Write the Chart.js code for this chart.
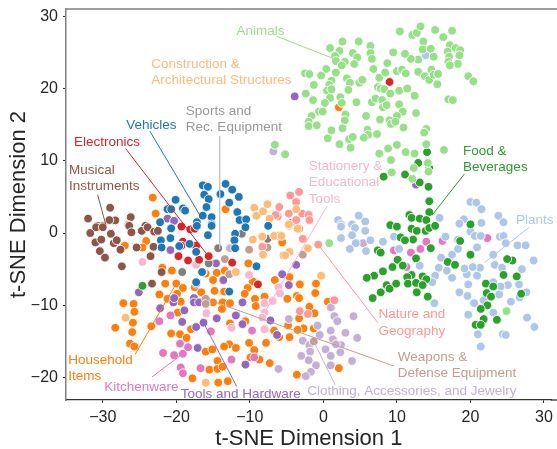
<!DOCTYPE html>
<html>
<head>
<meta charset="utf-8">
<style>html,body{margin:0;padding:0;background:#fff}canvas{display:block}</style>
<script src="https://cdn.jsdelivr.net/npm/chart.js@4"></script>
</head>
<body>
<canvas id="c" width="557" height="449" style="width:557px;height:449px"></canvas>
<script>
const xTicks=[-30,-20,-10,0,10,20,30];
const yTicks=[-20,-10,0,10,20,30];
const animals=[[10.4,27.9],[12.1,27.4],[12.7,27.7],[13.2,28.6],[15.2,28.1],[17.5,28.0],[16.3,27.1],[13.6,26.5],[17.2,26.0],[18.0,25.6],[18.6,25.3],[16.9,25.1],[17.1,24.4],[18.3,23.4],[18.5,24.6],[17.0,23.7],[17.2,23.2],[13.5,25.4],[14.6,25.5],[15.0,24.4],[12.9,24.0],[11.9,24.1],[11.1,24.8],[9.5,25.0],[8.7,23.5],[2.6,26.5],[4.8,26.5],[0.9,25.6],[2.2,25.2],[1.6,24.5],[1.7,23.8],[4.0,24.9],[4.6,24.3],[4.2,23.4],[2.9,23.7],[2.5,23.2],[6.4,25.9],[6.4,24.9],[6.6,24.1],[6.8,22.7],[0.4,22.7],[-0.3,21.8],[1.7,22.2],[-2.5,22.1],[-1.9,22.0],[3.2,21.4],[1.1,21.1],[0.8,20.5],[-1.3,20.5],[3.6,20.8],[4.9,20.8],[5.3,21.2],[-2.4,19.3],[0.5,19.7],[1.1,19.9],[3.4,19.8],[-1.4,18.4],[0.9,18.7],[0.2,18.0],[2.3,18.8],[2.5,18.0],[4.5,18.1],[-0.6,16.8],[-0.1,16.8],[-1.6,16.2],[-2.0,15.4],[-2.0,14.8],[-0.9,14.9],[3.0,16.4],[2.9,15.6],[5.8,16.2],[7.7,15.7],[2.6,14.5],[1.1,14.2],[0.6,13.1],[2.2,12.3],[3.5,13.0],[4.0,13.3],[3.7,11.8],[6.0,14.3],[6.1,13.6],[5.5,13.2],[7.3,13.7],[7.6,21.5],[8.4,22.2],[7.4,20.2],[7.8,20.0],[8.3,19.9],[9.1,19.3],[10.3,19.7],[11.4,20.0],[12.4,19.0],[10.0,22.4],[10.7,22.6],[11.2,22.1],[12.9,22.3],[13.8,21.7],[14.4,21.2],[14.7,22.6],[15.0,21.9],[15.6,22.0],[15.5,20.6],[19.7,21.7],[20.4,21.0],[17.0,18.5],[17.6,18.4],[6.6,18.1],[7.1,18.6],[8.0,18.4],[8.1,17.4],[8.6,17.7],[10.3,17.8],[10.8,16.8],[12.6,16.6],[10.0,16.2],[9.0,15.6],[9.2,15.1],[9.8,15.4],[10.9,14.6],[14.0,14.4],[13.7,13.9],[14.0,12.3],[16.4,11.5],[8.8,11.7],[10.0,12.2],[7.6,11.0],[11.2,11.2],[12.4,11.0],[9.2,10.1],[9.3,8.4],[12.3,9.0],[12.1,7.5],[14.2,9.7],[14.3,8.5],[-6.6,12.2],[-5.2,10.9],[0.8,-1.4],[24.9,-10.8]];
const foodBeverages=[[14.1,11.2],[12.9,9.7],[14.4,9.0],[8.2,7.8],[11.1,8.1],[13.1,7.0],[14.3,6.4],[14.4,4.4],[14.4,2.9],[11.7,2.5],[12.0,2.1],[13.1,2.0],[14.0,1.8],[9.1,1.1],[10.0,0.9],[12.0,0.6],[12.7,0.3],[13.9,0.3],[14.4,0.7],[15.2,1.0],[10.5,-0.6],[12.2,-0.9],[11.1,-1.0],[14.6,-2.1],[7.4,-2.4],[7.8,-2.7],[10.1,-3.7],[12.6,-3.5],[9.4,-4.7],[10.8,-4.5],[8.1,-5.3],[6.9,-5.9],[5.9,-6.2],[12.0,-5.8],[11.4,-6.1],[13.5,-6.0],[14.0,-6.4],[8.6,-7.2],[9.0,-7.7],[9.9,-7.0],[11.5,-7.0],[12.6,-6.9],[13.5,-7.2],[7.8,-8.2],[6.7,-9.0],[12.7,-8.2],[14.2,-8.8],[16.9,-4.0],[17.9,-4.4],[18.6,-1.1],[20.0,-3.0],[20.0,1.2],[25.7,-3.8],[26.3,-6.0],[26.9,-8.4],[24.5,-5.8],[22.1,-7.0],[23.1,-7.4],[22.2,-8.3],[22.8,-8.8],[22.3,-10.0],[21.4,-10.5],[21.8,-11.9],[23.6,-12.0],[20.7,-12.7],[21.4,-12.7],[25.0,-3.6],[-24.6,-7.3]];
const plants=[[20.0,4.3],[20.8,4.2],[21.5,3.3],[23.8,2.4],[24.5,1.5],[15.8,2.1],[19.1,1.9],[18.5,1.3],[21.5,1.4],[4.8,2.4],[5.7,1.6],[2.0,1.8],[2.4,1.2],[3.9,1.2],[2.4,0.9],[4.3,0.7],[3.9,-0.3],[5.7,0.3],[2.4,-0.7],[4.4,-1.4],[3.6,-2.2],[6.4,-1.0],[5.8,-2.5],[8.1,-1.2],[9.6,-0.5],[10.3,-2.2],[16.6,-0.5],[18.3,-0.9],[18.3,-2.2],[16.0,-3.4],[17.5,-3.0],[15.7,-4.8],[16.8,-5.2],[17.5,-6.2],[15.2,-5.9],[14.8,-6.8],[13.1,-4.5],[20.0,0.2],[20.6,-0.4],[21.4,-0.4],[20.9,-2.0],[24.0,-0.5],[24.5,-0.4],[26.4,-1.7],[27.5,-1.7],[24.8,-1.4],[23.1,-3.0],[28.6,-3.8],[27.0,-5.0],[26.6,-7.1],[27.6,-8.2],[26.7,-8.9],[25.1,-7.2],[24.1,-7.4],[23.9,-8.5],[25.5,-9.5],[23.1,-11.0],[20.5,-9.7],[19.7,-11.3],[18.5,-8.2],[19.6,-8.7],[19.7,-7.1],[19.5,-5.7],[19.2,-4.9],[20.9,-5.9],[21.3,-4.8],[20.3,-4.7],[23.3,-4.4],[24.3,-4.8],[23.1,-6.8],[21.8,-9.3],[27.7,-11.7],[28.7,-13.0],[24.4,-14.0],[21.0,-14.0],[21.4,-15.7],[24.8,-14.1],[15.1,-9.7],[13.9,24.6]];
const vehicles=[[-16.4,6.6],[-15.7,6.4],[-16.2,5.3],[-15.6,4.7],[-15.9,3.6],[-16.4,2.4],[-15.2,2.2],[-17.2,1.5],[-15.2,1.2],[-13.3,6.8],[-12.4,6.0],[-14.0,5.4],[-11.5,5.0],[-12.8,4.2],[-11.7,2.9],[-11.4,1.8],[-10.5,1.9],[-20.1,4.6],[-21.2,3.3],[-20.7,3.3],[-19.1,3.4],[-18.8,3.1],[-22.2,1.5],[-22.1,-1.0],[-20.8,-0.7],[-22.0,-2.0],[-19.6,-1.8],[-20.7,0.65],[-17.3,-2.6],[-15.7,-0.3],[-15.2,1.0],[-12.0,-0.1],[-12.1,-1.0],[-12.0,-2.1],[-10.6,0.8],[-9.1,-4.6],[-7.5,1.0],[-12.8,-8.1],[-17.2,1.0],[-18.2,-1.5],[-16.5,-5.4],[-17.3,-6.8]];
const electronics=[[-19.3,0.9],[-18.1,0.5],[-17.5,0.6],[-19.1,-1.2],[-17.3,-1.75],[-15.6,-3.2],[-19.7,-3.2],[-18.4,-3.8],[-16.9,-3.7],[-12.4,-4.1],[-8.9,-7.1],[-19.3,-1.75],[9.0,20.9]];
const musical=[[-32.0,2.0],[-29.0,3.5],[-28.3,1.75],[-29.1,1.8],[-26.2,2.2],[-30.7,1.0],[-30.0,1.0],[-26.5,1.1],[-24.2,1.0],[-31.7,0],[-30.9,0.8],[-30.0,0.8],[-28.9,-0.1],[-26.4,1.0],[-26.1,0.1],[-24.7,0.3],[-23.9,0.8],[-23.0,0.2],[-22.5,0.3],[-31.0,-1.3],[-30.2,-0.9],[-28.5,-1.4],[-28.1,-1.0],[-30.4,-2.5],[-29.7,-3.4],[-27.6,-2.3],[-25.4,-2.0],[-23.1,-1.9],[-23.5,-3.2],[-27.4,-4.6],[-23.3,-7.0],[-22.0,-5.4]];
const household=[[-23.2,4.9],[-22.8,2.7],[-13.3,3.3],[-24.1,-1.1],[-24.6,-2.0],[-27.0,-1.75],[-21.9,-4.8],[-20.6,-5.2],[-16.0,-5.6],[-14.5,-5.5],[-13.4,-5.2],[-15.0,-6.5],[-21.5,-7.0],[-20.0,-7.0],[-19.1,-7.6],[-17.5,-7.5],[-16.6,-8.2],[-14.8,-8.0],[-13.5,-8.1],[-22.3,-8.5],[-19.9,-8.4],[-19.4,-9.5],[-21.2,-9.1],[-27.2,-9.7],[-25.8,-9.8],[-25.7,-10.9],[-25.9,-12.4],[-26.0,-13.7],[-28.3,-13.1],[-23.4,-12.9],[-26.3,-15.3],[-25.7,-15.7],[-20.7,-13.9],[-19.5,-14.0],[-18.6,-14.5],[-18.0,-13.3],[-19.8,-11.0],[-15.0,-9.6],[-13.7,-9.6],[-12.7,-9.7],[-13.8,-10.5],[-12.7,-12.5],[-10.6,-12.2],[-10.1,-15.2],[-9.4,-16.2],[-7.8,-15.2],[-16.0,-16.4],[-15.1,-16.1],[-12.8,-15.4],[-13.5,-15.7],[-11.9,-15.9],[-14.4,-17.7],[-15.5,-18.9],[-14.4,-18.8],[-13.7,-18.5],[-17.8,-20.1],[-14.3,-20.7],[-13.0,-20.5],[-9.9,-17.2],[-8.7,-17.5],[-7.3,-18.0],[-10.2,-4.2],[-9.6,-6.7],[-10.3,-7.6],[-10.7,-8.4],[-9.3,-9.1],[-8.0,-8.8],[-9.2,-10.1],[-6.6,-6.5],[-6.7,-13.5],[-4.6,-6.1],[-3.2,-7.1],[-1.0,-7.0],[-1.1,-8.3],[-4.9,-9.1],[-3.6,-8.7],[-3.3,-9.0],[0.6,-9.5],[-1.9,-10.2],[-1.2,-11.1],[-3.3,-11.8],[-4.8,-12.8],[-2.7,-13.2],[-1.3,-13.2],[-3.5,-13.4],[-4.6,-14.4],[-6.0,-14.4],[-3.6,-19.6],[2.1,-18.7],[-6.0,-0.4],[-5.6,-1.3],[-5.4,-3.1],[-3.3,0.6],[2.1,17.4]];
const construction=[[-9.4,3.5],[-9.1,2.4],[-8.2,3.0],[-7.6,4.0],[-7.3,2.0],[-9.6,-0.9],[-8.3,-0.5],[-6.7,-0.4],[-8.2,-3.0],[-11.9,-5.4],[-26.9,-11.7],[-16.0,-20.7],[-5.7,-0.4],[-4.7,1.0],[-3.5,0.6],[-2.1,-2.1],[-4.6,-2.6],[-5.2,-3.1],[-0.3,-5.9],[-3.7,3.3],[-4.7,1.2]];
const natureGeo=[[-4.5,5.2],[-3.3,5.7],[-3.7,4.3],[-6.0,3.6],[-4.7,2.7],[-2.9,2.7],[-2.0,2.5],[-6.2,2.3],[-1.9,1.8],[-3.7,1.8],[-6.5,2.5],[-8.3,-1.9],[-2.8,-0.8],[-0.7,-1.6],[-3.2,-10.8],[1.5,-9.3],[-2.1,-11.2]];
const sports=[[-14.3,-2.1],[-17.3,-1.9],[-19.2,-5.4],[-11.1,-0.1],[-7.6,-0.8],[-15.6,-4.2],[-4.4,1.4]];
const weapons=[[-16.0,-9.1],[-16.0,-9.8],[-13.4,-3.6],[-12.8,-5.7],[-10.1,-2.3],[-7.6,-2.0],[-2.8,-3.0],[-1.3,-15.0]];
const clothing=[[-12.7,-2.1],[-6.1,-18.8],[-6.8,11.3],[1.0,-10.3],[1.5,-11.5],[1.9,-12.2],[4.1,-11.5],[1.0,-13.5],[-0.8,-12.8],[-0.5,-14.1],[3.0,-13.8],[4.6,-14.5],[1.3,-14.7],[2.4,-15.5],[1.7,-15.4],[0.3,-16.1],[-2.8,-14.9],[-1.9,-15.5],[-1.8,-16.4],[-3.0,-17.0],[-2.0,-17.6],[2.3,-16.5],[1.0,-17.0],[3.9,-17.7],[1.0,-18.3],[-1.0,-18.3],[-1.7,-19.2],[-2.4,-19.8],[-4.7,-11.9],[5.4,-1.4]];
const tools=[[-21.2,2.0],[-20.3,1.7],[-20.8,-2.35],[-14.6,-4.2],[-16.4,-5.4],[-13.6,-6.5],[-17.3,-7.0],[-25.1,-8.2],[-17.6,-9.0],[-17.6,-9.6],[-16.9,-9.6],[-20.4,-9.6],[-20.3,-9.0],[-22.2,-10.4],[-18.9,-10.7],[-11.0,-9.6],[-11.9,-11.4],[-11.0,-12.6],[-14.5,-11.8],[-16.3,-12.4],[-17.3,-13.0],[-19.2,-12.3],[-17.1,-15.9],[-10.6,-18.2],[-7.2,-12.1],[-6.3,-14.1],[-3.7,-4.4],[-5.6,-5.7],[-4.7,-7.2],[-3.9,18.9],[12.6,6.7]];
const kitchenware=[[14.0,-1.2],[16.2,-1.1],[22.3,-0.7],[11.9,-2.7],[13.2,-2.2],[11.3,-4.7],[9.6,-2.4],[-22.3,-12.2],[-20.8,-11.4],[-21.8,-16.6],[-20.3,-16.9],[-19.1,-16.7],[-19.5,-15.3],[-18.4,-15.8],[-19.4,-18.6],[-19.1,-19.4],[-16.7,-18.7],[-12.5,-17.5],[-9.4,-17.2],[-15.3,-13.6],[-9.7,-13.5]];
const stationery=[[-24.6,-4.0],[-17.3,-4.4],[-10.1,-5.8],[-15.9,-11.1],[-12.5,-13.1],[-8.0,-9.7],[-6.9,-9.4],[-8.0,-11.0],[-8.0,-13.3],[-6.1,-7.5],[-8.3,-11.7],[-5.9,-8.35]];

const groups=[
 {name:'Animals',color:'#98df8a',pts:animals,text:['Animals'],at:[-11.8,27.4],lead:[[-6.3,27.2],[1.5,24.1]]},
 {name:'Food & Beverages',color:'#2ca02c',pts:foodBeverages,text:['Food &','Beverages'],at:[19.0,10.8],lead:[[19.2,8.2],[14.8,2.5]]},
 {name:'Plants',color:'#aec7e8',pts:plants,text:['Plants'],at:[26.2,1.2],lead:[[28.0,0.8],[21.9,-4.1]]},
 {name:'Vehicles',color:'#1f77b4',pts:vehicles,text:['Vehicles'],at:[-26.8,14.4],lead:[[-23.6,14.1],[-16.7,2.3]]},
 {name:'Electronics',color:'#d62728',pts:electronics,text:['Electronics'],at:[-33.9,12.0],lead:[[-26.9,11.7],[-15.5,-3.4]]},
 {name:'Musical Instruments',color:'#8c564b',pts:musical,text:['Musical','Instruments'],at:[-34.6,8.2],lead:[[-30.7,5.3],[-29.6,1.2]]},
 {name:'Construction',color:'#ffbb78',pts:construction,text:['Construction &','Architectural Structures'],at:[-23.4,22.8],lead:null},
 {name:'Nature and Geography',color:'#ff9896',pts:natureGeo,text:['Nature and','Geography'],at:[7.5,-11.8],lead:[[7.4,-12.4],[-0.7,-1.6]]},
 {name:'Sports',color:'#7f7f7f',textColor:'#999999',leadColor:'#c7c7c7',pts:sports,text:['Sports and','Rec. Equipment'],at:[-18.7,16.4],lead:[[-14.1,13.4],[-14.1,-2.2]]},
 {name:'Weapons',color:'#c49c94',pts:weapons,text:['Weapons &','Defense Equipment'],at:[10.1,-17.7],lead:[[9.6,-18.4],[-16.0,-9.1]]},
 {name:'Clothing',color:'#c5b0d5',pts:clothing,text:['Clothing, Accessories, and Jewelry'],at:[-2.2,-22.4],lead:[[1.6,-21.0],[-1.3,-15.0]]},
 {name:'Tools',color:'#9467bd',pts:tools,text:['Tools and Hardware'],at:[-19.4,-22.8],lead:[[-11.8,-21.2],[-16.3,-12.4]]},
 {name:'Kitchenware',color:'#e377c2',pts:kitchenware,text:['Kitchenware'],at:[-29.8,-21.8],lead:[[-23.3,-19.9],[-19.1,-16.7]]},
 {name:'Stationery',color:'#f7b6d2',pts:stationery,text:['Stationery &','Educational','Tools'],at:[-2.0,8.7],lead:[[0.5,3.7],[-8.0,-11.0]]},
 {name:'Household',color:'#ff7f0e',pts:household,text:['Household','Items'],at:[-34.7,-18.1],lead:[[-25.6,-16.8],[-20.3,-7.5]]}
];
const FONT='"Liberation Sans", Arial, Helvetica, sans-serif';
const toXY=p=>({x:p[0],y:p[1]});
const datasets=[];
groups.forEach(g=>{ if(g.lead) datasets.push({type:'line',label:g.name+' leader',data:g.lead.map(toXY),borderColor:g.leadColor||g.color,borderWidth:1,pointRadius:0,fill:false,order:1,clip:false}); });
groups.forEach(g=>datasets.push({type:'scatter',label:g.name,data:g.pts.map(toXY),backgroundColor:g.color,borderColor:'#ffffff',borderWidth:0.9,pointRadius:4.4,pointHoverRadius:4.4,order:2,clip:false}));

const labelsPlugin={id:'labelsPlugin',
 afterDatasetsDraw(ch){
  const c=ch.ctx,xs=ch.scales.x,ys=ch.scales.y;
  c.save();
  c.font='13.5px '+FONT;c.textAlign='left';c.textBaseline='alphabetic';
  groups.forEach(g=>{
   c.fillStyle=g.textColor||g.color;
   const x=xs.getPixelForValue(g.at[0]);let y=ys.getPixelForValue(g.at[1]);
   g.text.forEach((t,i)=>c.fillText(t,x,y+i*16.2));
  });
  c.restore();
 },
 beforeDatasetsDraw(ch){
  const c=ch.ctx,a=ch.chartArea;
  c.save();
  c.strokeStyle='#7f7f7f';c.lineWidth=1.5;
  c.beginPath();c.moveTo(a.left,a.top);c.lineTo(ch.width,a.top);c.stroke();
  c.strokeStyle='#333333';c.lineWidth=1.3;
  c.beginPath();c.moveTo(a.right-1,a.bottom);c.lineTo(ch.width,a.bottom);c.stroke();
  c.restore();
 }
};
new Chart(document.getElementById('c'),{
 data:{datasets},
 plugins:[labelsPlugin],
 options:{
  responsive:false,animation:false,
  events:[],
  layout:{padding:{top:9,right:0,left:0,bottom:0}},
  plugins:{legend:{display:false},tooltip:{enabled:false}},
  scales:{
   x:{type:'linear',min:-35,max:31.05,
    afterBuildTicks:s=>{s.ticks=xTicks.map(v=>({value:v}));},
    afterFit:s=>{s.height=49;s.paddingLeft=0;s.paddingRight=0;},
    grid:{drawOnChartArea:false,drawTicks:true,tickLength:3,tickColor:'#333',tickWidth:1},
    border:{display:true,color:'#333333',width:1.3},
    ticks:{autoSkip:false,maxRotation:0,padding:5,color:'#262626',font:{family:FONT,size:16},callback:v=>String(v).replace('-','\u2212')},
    title:{display:true,text:'t-SNE Dimension 1',color:'#262626',font:{family:FONT,size:22},padding:{top:0,bottom:-3.5}}
   },
   y:{type:'linear',min:-23.1,max:31,
    afterBuildTicks:s=>{s.ticks=yTicks.map(v=>({value:v}));},
    afterFit:s=>{s.width=66;s.paddingTop=0;s.paddingBottom=0;},
    grid:{drawOnChartArea:false,drawTicks:true,tickLength:3,tickColor:'#333',tickWidth:1},
    border:{display:true,color:'#7f7f7f',width:1.5},
    ticks:{autoSkip:false,padding:5,color:'#262626',font:{family:FONT,size:16},callback:v=>String(v).replace('-','\u2212')},
    title:{display:true,text:'t-SNE Dimension 2',color:'#262626',font:{family:FONT,size:22},padding:{top:6,bottom:0}}
   }
  }
 }
});
</script>
</body>
</html>
